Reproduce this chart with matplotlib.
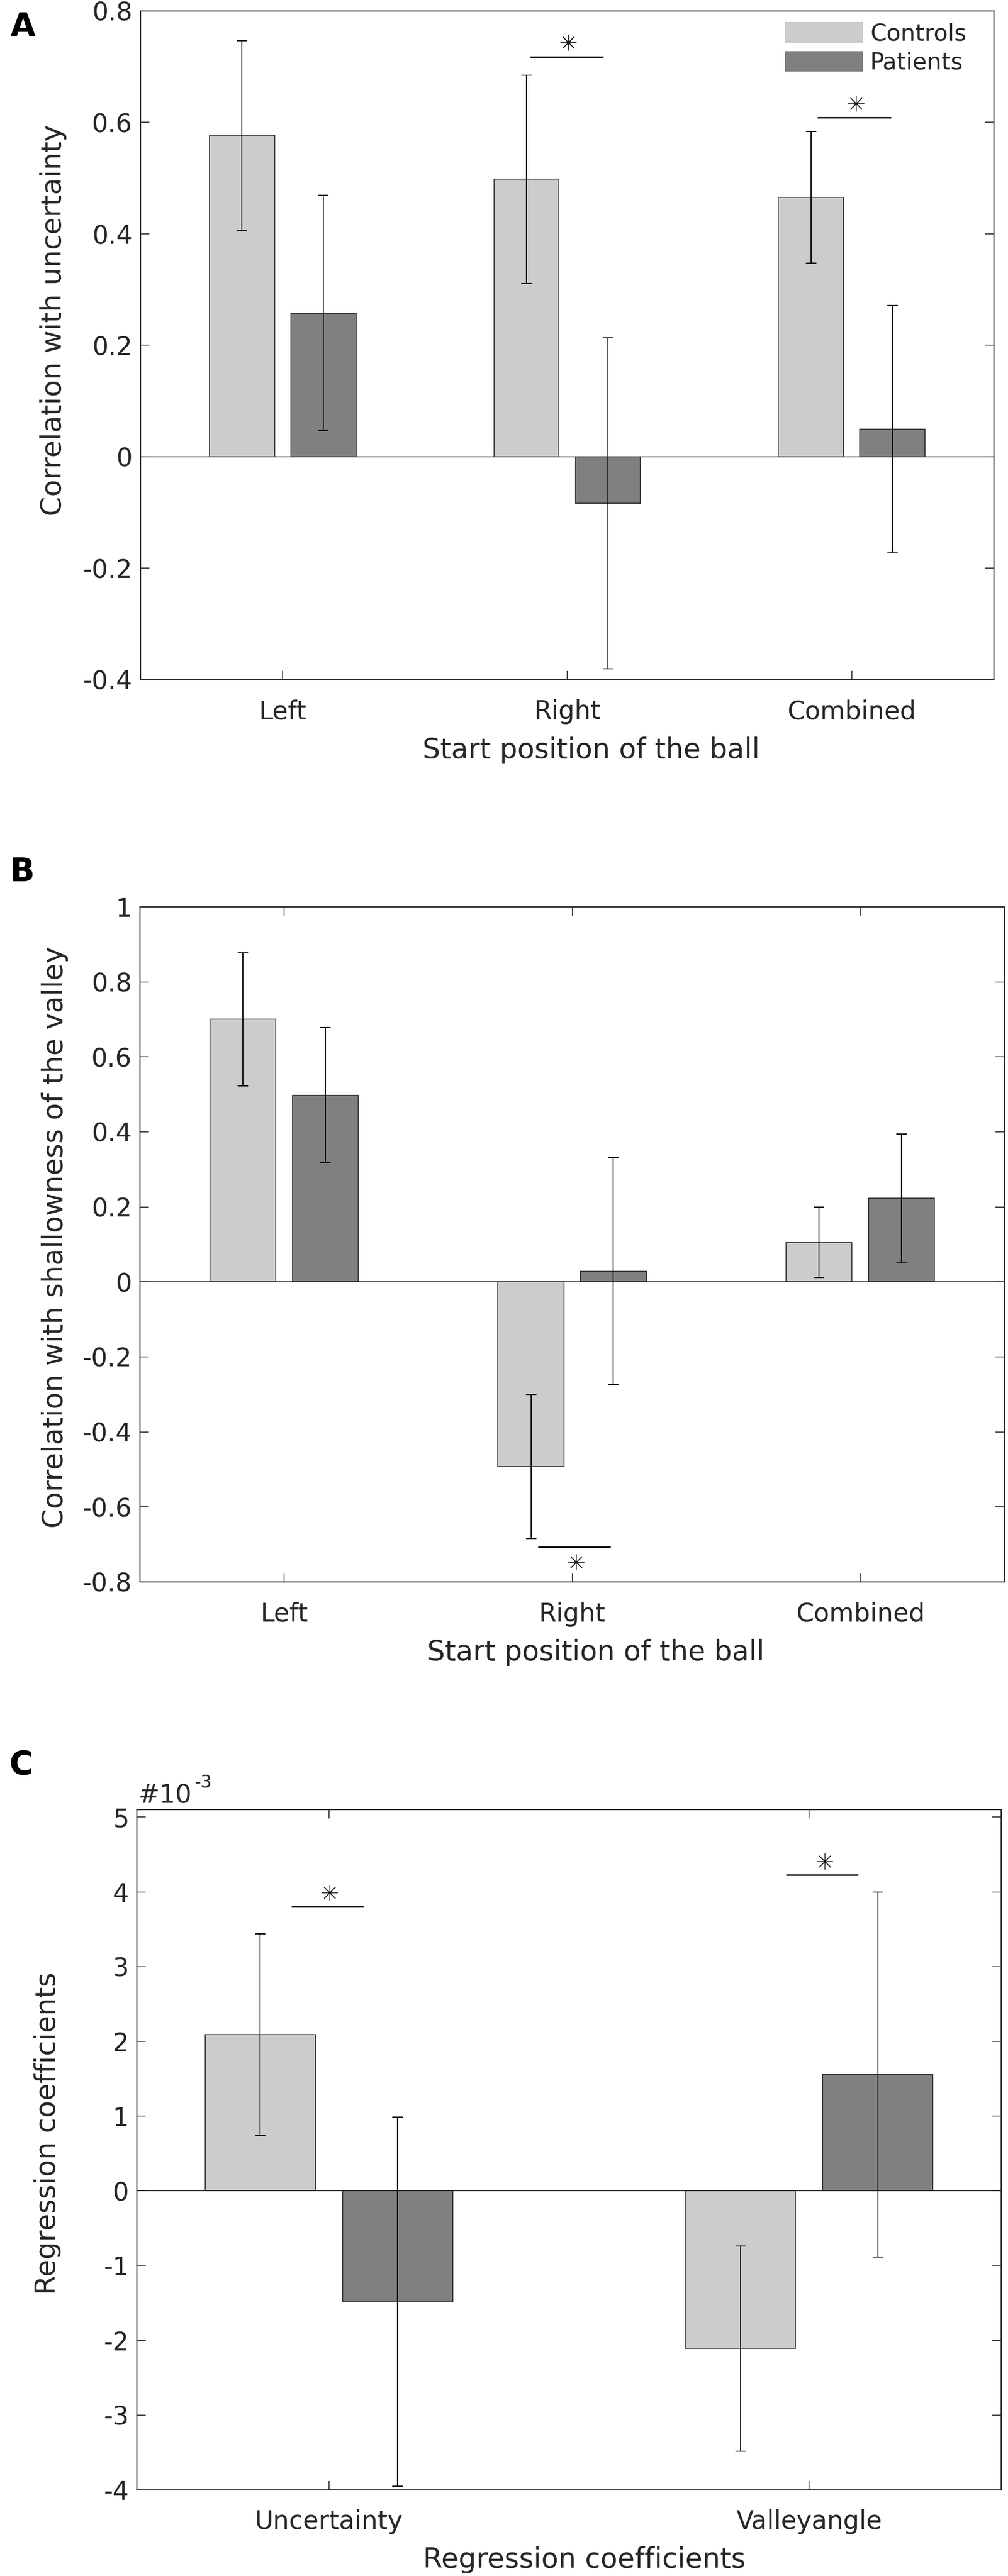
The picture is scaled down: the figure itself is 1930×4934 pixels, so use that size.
import matplotlib
matplotlib.use('Agg')
import matplotlib.pyplot as plt
from matplotlib.patches import Patch
import numpy as np

plt.rcParams['font.family'] = ['DejaVu Sans']
plt.rcParams['axes.unicode_minus'] = False

W, H, DPI = 1930, 4934, 100
TXT = '#262626'

# ---------------- data ----------------
groups = ['Controls', 'Patients']
group_colors = ['#cccccc', '#808080']

# Panel A
A_categories = ['Left', 'Right', 'Combined']
A_controls = [0.577, 0.498, 0.466]
A_controls_err = [0.170, 0.187, 0.118]
A_patients = [0.258, -0.083, 0.050]
A_patients_err = [0.211, 0.297, 0.222]
A_yticks = [-0.4, -0.2, 0, 0.2, 0.4, 0.6, 0.8]
A_yticklabels = ['-0.4', '-0.2', '0', '0.2', '0.4', '0.6', '0.8']
A_sig_x0 = [1.870, 2.880]
A_sig_x1 = [2.127, 3.138]
A_sig_y = [0.718, 0.609]
A_star_x = [2.004, 3.016]
A_star_y = [0.744, 0.634]

# Panel B
B_categories = ['Left', 'Right', 'Combined']
B_controls = [0.700, -0.492, 0.105]
B_controls_err = [0.178, 0.192, 0.094]
B_patients = [0.498, 0.029, 0.223]
B_patients_err = [0.180, 0.303, 0.172]
B_yticks = [-0.8, -0.6, -0.4, -0.2, 0, 0.2, 0.4, 0.6, 0.8, 1.0]
B_yticklabels = ['-0.8', '-0.6', '-0.4', '-0.2', '0', '0.2', '0.4', '0.6', '0.8', '1']
B_sig_x0 = [1.882]
B_sig_x1 = [2.134]
B_sig_y = [-0.707]
B_star_x = [2.013]
B_star_y = [-0.747]

# Panel C
C_categories = ['Uncertainty', 'Valleyangle']
C_controls = [2.09e-3, -2.11e-3]
C_controls_err = [1.35e-3, 1.37e-3]
C_patients = [-1.484e-3, 1.556e-3]
C_patients_err = [2.47e-3, 2.44e-3]
C_yticks = [-4e-3, -3e-3, -2e-3, -1e-3, 0, 1e-3, 2e-3, 3e-3, 4e-3, 5e-3]
C_yticklabels = ['-4', '-3', '-2', '-1', '0', '1', '2', '3', '4', '5']
C_sig_x0 = [0.922, 1.952]
C_sig_x1 = [1.072, 2.102]
C_sig_y = [3.80e-3, 4.225e-3]
C_star_x = [1.001, 2.032]
C_star_y = [3.99e-3, 4.41e-3]

# ---------------- figure ----------------
fig = plt.figure(figsize=(W / DPI, H / DPI), dpi=DPI)
fig.patch.set_facecolor('white')


def px_axes(left, top, right, bottom):
    return fig.add_axes([left / W, 1 - bottom / H, (right - left) / W, (bottom - top) / H])


def ftext(x, y, s, **kw):
    return fig.text(x / W, 1 - y / H, s, **kw)


def draw_panel(ax, cats, ctrl, ctrl_err, pat, pat_err, xlim, ylim, yticks, yticklabels,
               sx0, sx1, sy, stx, sty, top_ticks):
    x = np.arange(1, len(cats) + 1)
    off, bw = 0.143, 0.229
    ax.bar(x - off, ctrl, bw, color=group_colors[0], edgecolor='#1a1a1a', linewidth=1.1, zorder=2)
    ax.bar(x + off, pat, bw, color=group_colors[1], edgecolor='#1a1a1a', linewidth=1.1, zorder=2)
    ax.axhline(0, color=TXT, lw=1.3, zorder=3)
    ax.errorbar(x - off, ctrl, yerr=ctrl_err, fmt='none', ecolor='black', elinewidth=1.4,
                capsize=7.5, capthick=1.4, zorder=4)
    ax.errorbar(x + off, pat, yerr=pat_err, fmt='none', ecolor='black', elinewidth=1.4,
                capsize=7.5, capthick=1.4, zorder=4)
    for a, b, y in zip(sx0, sx1, sy):
        ax.plot([a, b], [y, y], color='black', lw=2.0, zorder=5, solid_capstyle='butt')
    ax.plot(stx, sty, ls='none', marker=(8, 2, 0), ms=22, mew=0.9, color='#111111', zorder=5)
    ax.set_xlim(*xlim)
    ax.set_ylim(*ylim)
    ax.set_xticks(x)
    ax.set_xticklabels(cats)
    ax.set_yticks(yticks)
    ax.set_yticklabels(yticklabels)
    ax.tick_params(axis='both', direction='in', length=12.2, width=1.2, colors=TXT,
                   labelsize=35, right=True, top=top_ticks)
    ax.tick_params(axis='x', pad=27)
    ax.tick_params(axis='y', pad=11)
    for sp in ax.spines.values():
        sp.set_linewidth(1.6)
        sp.set_color(TXT)


# Panel A
axA = px_axes(269, 21, 1903, 1302)
draw_panel(axA, A_categories, A_controls, A_controls_err, A_patients, A_patients_err,
           (0.5, 3.5), (-0.4, 0.8), A_yticks, A_yticklabels,
           A_sig_x0, A_sig_x1, A_sig_y, A_star_x, A_star_y, top_ticks=False)
handles = [Patch(facecolor=c, edgecolor='none') for c in group_colors]
axA.legend(handles, groups, loc='upper left', bbox_to_anchor=(1503 / W, 1 - 42 / H),
           bbox_transform=fig.transFigure, frameon=False, fontsize=32, borderpad=0,
           borderaxespad=0, handlelength=3.35, handleheight=1.0, handletextpad=0.32,
           labelspacing=0.26, labelcolor=TXT)
ftext(1132, 1452, 'Start position of the ball', ha='center', va='baseline', fontsize=38.5, color=TXT)
ftext(117, 613, 'Correlation with uncertainty', rotation=90, rotation_mode='anchor',
      ha='center', va='baseline', fontsize=38.5, color=TXT)
ftext(20, 70, 'A', fontsize=45, fontweight='bold', color='black', ha='left', va='baseline')

# Panel B
axB = px_axes(268, 1737, 1923, 3030)
draw_panel(axB, B_categories, B_controls, B_controls_err, B_patients, B_patients_err,
           (0.5, 3.5), (-0.8, 1.0), B_yticks, B_yticklabels,
           B_sig_x0, B_sig_x1, B_sig_y, B_star_x, B_star_y, top_ticks=True)
ftext(1141, 3180, 'Start position of the ball', ha='center', va='baseline', fontsize=38.5, color=TXT)
ftext(120, 2370, 'Correlation with shallowness of the valley', rotation=90, rotation_mode='anchor',
      ha='center', va='baseline', fontsize=38.5, color=TXT)
ftext(18, 1688, 'B', fontsize=45, fontweight='bold', color='black', ha='left', va='baseline')

# Panel C
axC = px_axes(262, 3466, 1917, 4769)
draw_panel(axC, C_categories, C_controls, C_controls_err, C_patients, C_patients_err,
           (0.6, 2.4), (-4e-3, 5.1e-3), C_yticks, C_yticklabels,
           C_sig_x0, C_sig_x1, C_sig_y, C_star_x, C_star_y, top_ticks=True)
ftext(1119, 4918, 'Regression coefficients', ha='center', va='baseline', fontsize=38.5, color=TXT)
ftext(106, 4086, 'Regression coefficients', rotation=90, rotation_mode='anchor',
      ha='center', va='baseline', fontsize=38.5, color=TXT)
ftext(264, 3453, '#10', ha='left', va='baseline', fontsize=35, color=TXT)
ftext(372, 3424, '-3', ha='left', va='baseline', fontsize=24, color=TXT)
ftext(18, 3399, 'C', fontsize=45, fontweight='bold', color='black', ha='left', va='baseline')

fig.savefig('out.png', dpi=DPI, facecolor='white')
